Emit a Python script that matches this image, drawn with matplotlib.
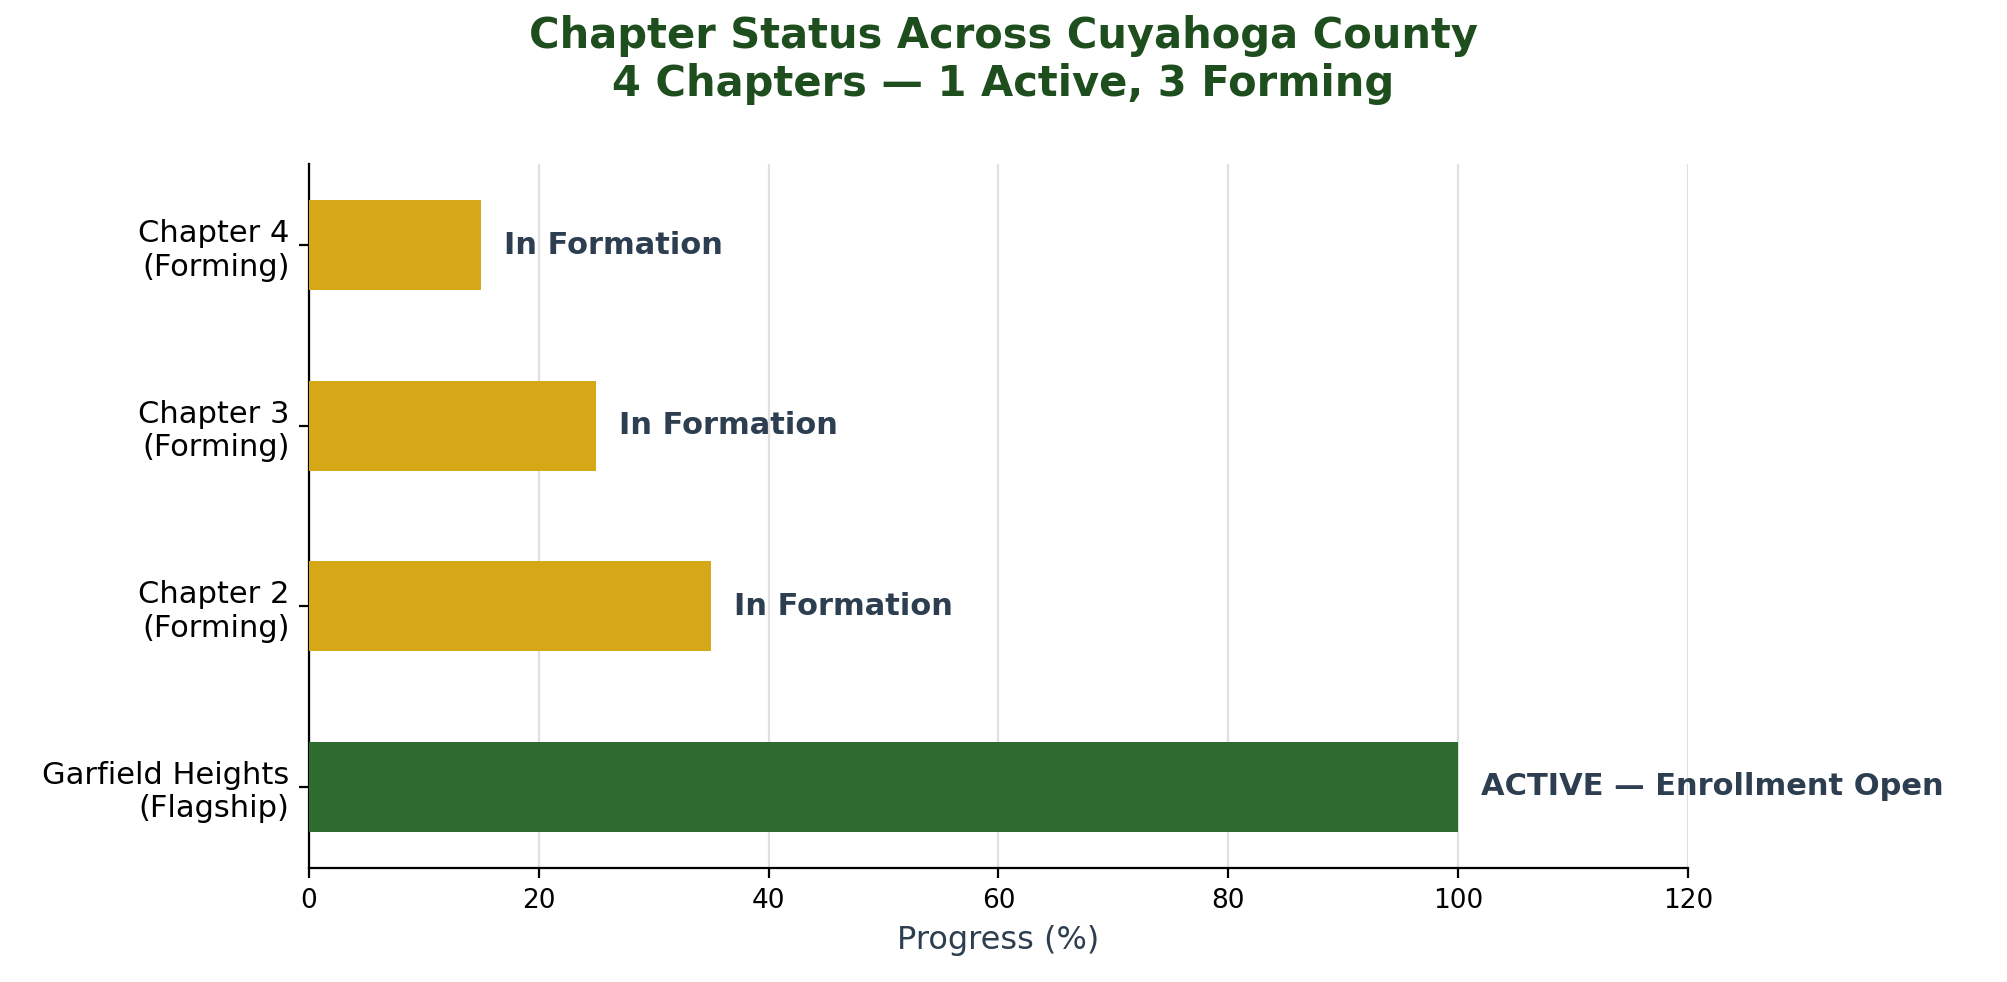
import matplotlib
matplotlib.use("Agg")
import matplotlib.pyplot as plt

categories = ["Garfield Heights\n(Flagship)", "Chapter 2\n(Forming)", "Chapter 3\n(Forming)", "Chapter 4\n(Forming)"]
values = [100, 35, 25, 15]
labels = ["ACTIVE — Enrollment Open", "In Formation", "In Formation", "In Formation"]
colors = ["#2E6B2E", "#D4A817", "#D4A817", "#D4A817"]

fig = plt.figure(figsize=(10.035, 4.91), dpi=200)
ax = fig.add_axes([0.154, 0.116, 0.687, 0.717])
y = range(len(categories))
ax.barh(y, values, height=0.5, color=colors, zorder=3)
for yi, v, t in zip(y, values, labels):
    ax.text(v + 2, yi, t, va="center", ha="left", fontsize=11, fontweight="bold", color="#2C3E50")
ax.set_yticks(list(y))
ax.set_yticklabels(categories, fontsize=11)
ax.set_xlim(0, 120)
ax.set_ylim(-0.45, 3.45)
ax.set_xticks([0, 20, 40, 60, 80, 100, 120])
ax.tick_params(axis="x", labelsize=9.5)
ax.set_xlabel("Progress (%)", fontsize=11.5, color="#2C3E50")
ax.grid(axis="x", color="#E0E0E0", linewidth=0.8, zorder=0)
ax.spines["top"].set_visible(False)
ax.spines["right"].set_visible(False)
fig.suptitle("Chapter Status Across Cuyahoga County\n4 Chapters — 1 Active, 3 Forming",
             fontsize=15, fontweight="bold", color="#1E4D1E", y=0.985)
fig.savefig("out.png", dpi=200)
